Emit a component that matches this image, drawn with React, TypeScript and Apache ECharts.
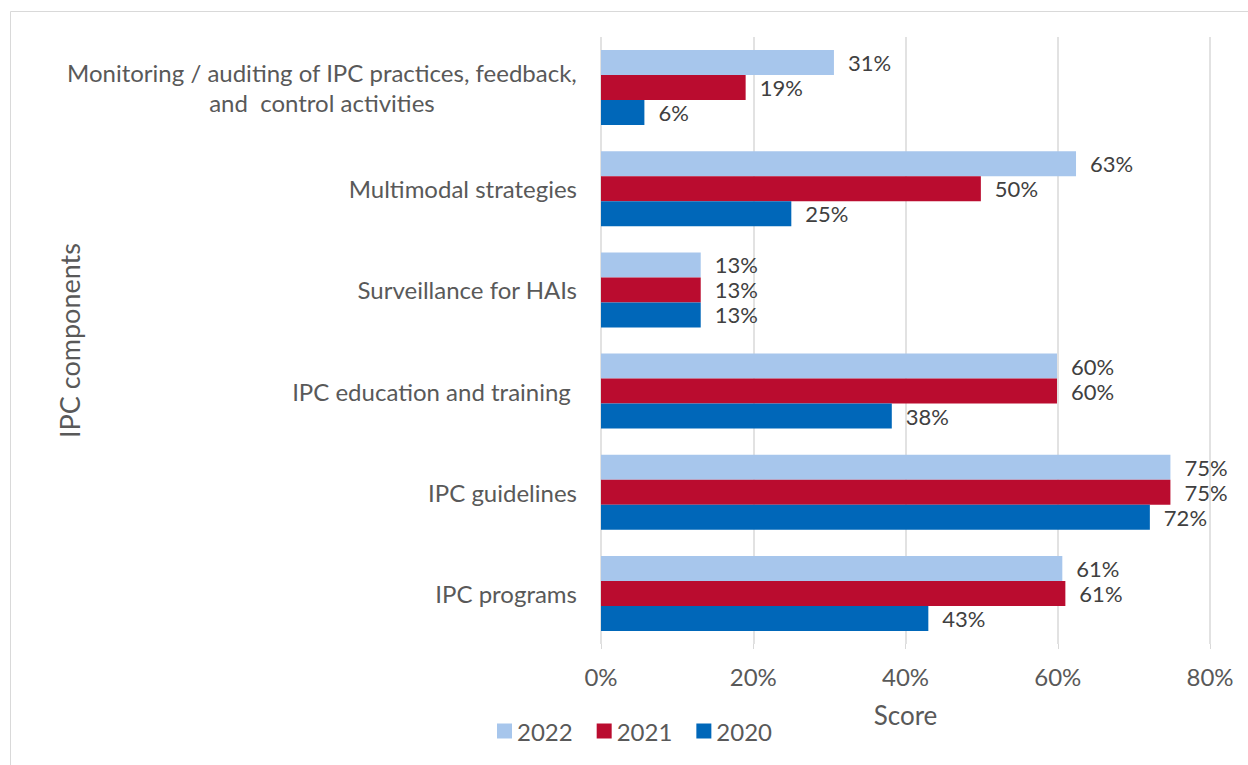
import React, { useEffect, useRef } from "react";
import * as echarts from "echarts";

const categories = [
  "IPC programs",
  "IPC guidelines",
  "IPC education and training ",
  "Surveillance for HAIs",
  "Multimodal strategies",
  "Monitoring / auditing of IPC practices, feedback,\nand  control activities",
];
const values2022 = [60.6, 74.8, 59.9, 13.1, 62.4, 30.6];
const values2021 = [61.0, 74.8, 59.9, 13.1, 49.9, 19.0];
const values2020 = [43.0, 72.1, 38.2, 13.1, 25.0, 5.7];
const labels2022 = ["61%", "75%", "60%", "13%", "63%", "31%"];
const labels2021 = ["61%", "75%", "60%", "13%", "50%", "19%"];
const labels2020 = ["43%", "72%", "38%", "13%", "25%", "6%"];
const xTicks = [0, 20, 40, 60, 80];

const FONT = "Lato, 'Open Sans', sans-serif";
const TXT = "#595959";

export default function App() {
  const ref = useRef<HTMLDivElement>(null);
  useEffect(() => {
    if (!ref.current) return;
    const chart = echarts.init(ref.current, null, { renderer: "svg" });
    const mk = (name: string, data: number[], labels: string[], color: string) => ({
      name,
      type: "bar",
      data,
      barWidth: 25,
      barGap: "0%",
      itemStyle: { color },
      label: {
        show: true,
        position: "right",
        distance: 14,
        fontSize: 22,
        lineHeight: 24,
        fontFamily: FONT,
        color: "#404040",
        formatter: (p: any) => labels[p.dataIndex],
      },
    });
    chart.setOption({
      animation: false,
      graphic: [
        {
          type: "rect",
          shape: { x: 10.5, y: 11.5, width: 1300, height: 800 },
          style: { fill: "none", stroke: "#d9d9d9", lineWidth: 1 },
          silent: true,
        },
      ],
      legend: {
        data: ["2022", "2021", "2020"],
        left: 492,
        top: 714,
        itemWidth: 15,
        itemHeight: 15,
        itemGap: 24,
        icon: "rect",
        textStyle: { fontSize: 24, fontFamily: FONT, color: TXT },
      },
      grid: { left: 601, right: 38, top: 37, bottom: 121, containLabel: false },
      xAxis: {
        type: "value",
        min: 0,
        max: 80,
        interval: 20,
        name: "Score",
        nameLocation: "middle",
        nameGap: 58,
        nameMoveOverlap: false,
        nameTextStyle: { fontSize: 26, fontFamily: FONT, color: TXT },
        axisLine: { show: false },
        axisTick: { show: true, length: 5, lineStyle: { color: "#d9d9d9" } },
        splitLine: { show: true, lineStyle: { color: "#d9d9d9", width: 1.5 } },
        axisLabel: {
          fontSize: 24,
          fontFamily: FONT,
          color: TXT,
          margin: 20,
          formatter: (v: number) => (xTicks.includes(v) ? v + "%" : ""),
        },
      },
      yAxis: {
        type: "category",
        data: categories,
        name: "IPC components",
        nameLocation: "middle",
        nameRotate: 90,
        nameGap: 518,
        nameMoveOverlap: false,
        nameTextStyle: { fontSize: 27, fontFamily: FONT, color: TXT },
        axisLine: { show: false },
        axisTick: { show: false },
        axisLabel: {
          fontSize: 24,
          fontFamily: FONT,
          color: TXT,
          margin: 24,
          align: "right",
          formatter: (v: string) => (v.includes("\n") ? "{c|" + v.split("\n").join("}\n{c|") + "}" : v),
          rich: {
            c: { align: "center", fontSize: 24, fontFamily: FONT, color: TXT, lineHeight: 30 },
          },
        },
      },
      series: [
        mk("2022", values2022, labels2022, "#A7C6EC"),
        mk("2021", values2021, labels2021, "#BA0C2F"),
        mk("2020", values2020, labels2020, "#0067B9"),
      ],
    });
    return () => chart.dispose();
  }, []);
  return (
    <div
      ref={ref}
      style={{ position: "fixed", left: 0, top: 0, width: 1248, height: 765, background: "#fff" }}
    />
  );
}
